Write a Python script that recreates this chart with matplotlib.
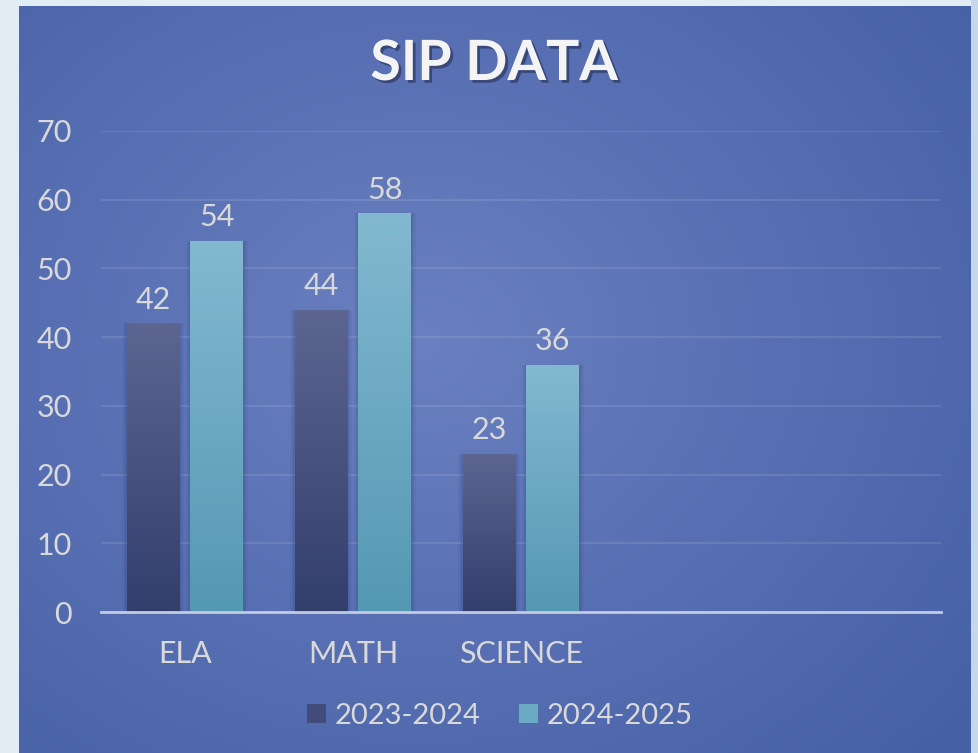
import numpy as np
import matplotlib
matplotlib.use("Agg")
import matplotlib.pyplot as plt
from matplotlib.patches import Rectangle
import matplotlib.patheffects as pe

plt.rcParams["font.family"] = ["Lato", "DejaVu Sans"]

# ──────────────────────────────────────────────
# 데이터
# ──────────────────────────────────────────────
CATEGORIES = ["ELA", "MATH", "SCIENCE", "", ""]
SERIES = ["2023-2024", "2024-2025"]
VALUES_2324 = [42, 44, 23]
VALUES_2425 = [54, 58, 36]
Y_TICKS = [0, 10, 20, 30, 40, 50, 60, 70]

W, H = 979, 753
TXT = "#d9d9d9"
DARK_TOP, DARK_BOT = "#5d6691", "#323e6c"
LIGHT_TOP, LIGHT_BOT = "#82b9d0", "#5598b3"


def hex_rgb(c):
    c = c.lstrip("#")
    return np.array([int(c[i:i + 2], 16) / 255 for i in (0, 2, 4)])


def vgrad(top, bot, n=200):
    t = np.linspace(0, 1, n)[:, None]
    return (hex_rgb(top) * (1 - t) + hex_rgb(bot) * t)[:, None, :]


fig = plt.figure(figsize=(W / 100, H / 100), dpi=100, facecolor="#e2ecf5")
fig.patches.append(Rectangle((971 / W, 0), 8 / W, 1, transform=fig.transFigure,
                             facecolor="#c4d7eb", edgecolor="none"))

# 패널 배경 (방사형 그라데이션)
ax_bg = fig.add_axes([19 / W, 0, (971 - 19) / W, (H - 6) / H], zorder=0)
ax_bg.axis("off")
gx, gy = np.meshgrid(np.linspace(0, 1, 400), np.linspace(0, 1, 320))
r = np.sqrt(((gx - 0.42) / 0.75) ** 2 + ((gy - 0.45) / 0.8) ** 2)
r = np.clip(r, 0, 1)[..., None]
bg = hex_rgb("#6a80c0") * (1 - r) + hex_rgb("#4660a6") * r
ax_bg.imshow(bg, extent=(0, 1, 0, 1), aspect="auto", origin="upper")
ax_bg.set_xlim(0, 1)
ax_bg.set_ylim(0, 1)

# 메인 차트
ax = fig.add_axes([101 / W, 141 / H, 840 / W, 481 / H], zorder=1)
ax.patch.set_alpha(0)
x = np.arange(len(CATEGORIES))
bw, off = 0.315, 0.19

for vals, dx, top, bot in [(VALUES_2324, -off, DARK_TOP, DARK_BOT),
                           (VALUES_2425, off, LIGHT_TOP, LIGHT_BOT)]:
    xs = x[:len(vals)] + dx
    # 부드러운 그림자
    for k, a in [(0.05, 0.05), (0.035, 0.06), (0.02, 0.08)]:
        ax.bar(xs, vals, width=bw + k, color="#1c2550", alpha=a, zorder=2, linewidth=0)
    bars = ax.bar(xs, vals, width=bw, color=bot, zorder=3, linewidth=0)
    for b in bars:
        im = ax.imshow(vgrad(top, bot), extent=(b.get_x(), b.get_x() + b.get_width(), 0, b.get_height()),
                       aspect="auto", zorder=4, origin="upper")
        im.set_clip_path(b)
        ax.annotate(f"{b.get_height():g}", (b.get_x() + b.get_width() / 2, b.get_height()),
                    xytext=(0, 7), textcoords="offset points", ha="center", va="bottom",
                    fontsize=22, color=TXT)

ax.set_xlim(-0.5, len(CATEGORIES) - 0.5)
ax.set_ylim(0, 70)
ax.set_yticks(Y_TICKS)
ax.set_xticks(x[:3])
ax.set_xticklabels(CATEGORIES[:3])
ax.tick_params(axis="both", length=0, labelsize=22, labelcolor=TXT)
ax.tick_params(axis="x", pad=20)
ax.tick_params(axis="y", pad=21)
ax.grid(axis="y", color="white", alpha=0.12, linewidth=1.2, zorder=1)
ax.set_axisbelow(True)
for s in ["top", "right", "left"]:
    ax.spines[s].set_visible(False)
ax.spines["bottom"].set_color("#c3cbe0")
ax.spines["bottom"].set_linewidth(2)
ax.spines["bottom"].set_zorder(5)

# 범례
handles = [Rectangle((0, 0), 1, 1, facecolor=c, edgecolor="none") for c in ["#414c7a", "#6aaac3"]]
fig.legend(handles, SERIES, loc="center", bbox_to_anchor=(500 / W, 1 - 716 / H),
           ncol=2, frameon=False, fontsize=21, handlelength=0.65, handleheight=0.65,
           handletextpad=0.3, columnspacing=1.3, labelcolor=TXT)

# 제목
fig.text(494 / W, 1 - 64 / H, "SIP DATA", ha="center", va="center", fontsize=40,
         fontweight="bold", color="#f4f4f4",
         path_effects=[pe.withSimplePatchShadow(offset=(2, -2), shadow_rgbFace="#1a2040", alpha=0.5)])

fig.savefig("out.png", dpi=100, facecolor=fig.get_facecolor())
